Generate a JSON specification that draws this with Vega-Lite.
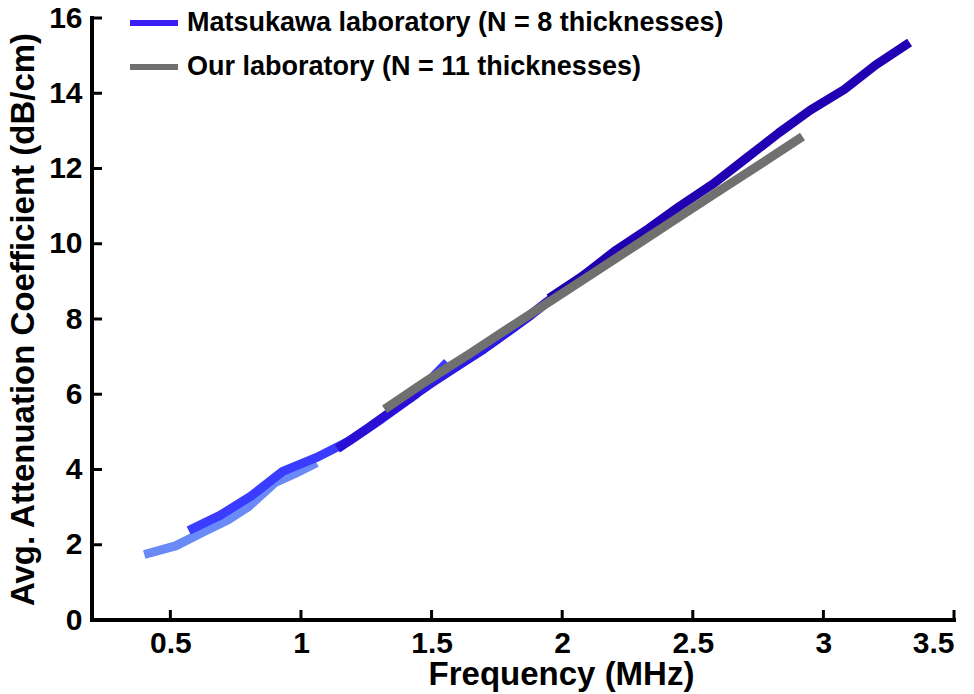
{
  "$schema": "https://vega.github.io/schema/vega-lite/v6.json",
  "autosize": {"type": "none"},
  "width": 862,
  "height": 602,
  "padding": {"left": 92, "top": 18, "right": 20, "bottom": 74},
  "background": "white",
  "config": {
    "view": {"stroke": null},
    "font": "Liberation Sans",
    "axis": {
      "grid": false,
      "domain": false,
      "ticks": false,
      "labelFont": "Liberation Sans",
      "labelFontWeight": "bold",
      "labelFontSize": 30,
      "labelColor": "black",
      "titleFont": "Liberation Sans",
      "titleFontWeight": "bold",
      "titleFontSize": 33,
      "titleColor": "black"
    },
    "legend": {
      "labelFont": "Liberation Sans",
      "labelFontWeight": "bold",
      "labelFontSize": 27,
      "labelColor": "black",
      "labelLimit": 0
    }
  },
  "datasets": {
    "matsukawa": [
      {"seg": "s1", "f": 0.40, "v": 1.74},
      {"seg": "s1", "f": 0.52, "v": 1.97},
      {"seg": "s1", "f": 0.62, "v": 2.32},
      {"seg": "s1", "f": 0.72, "v": 2.66},
      {"seg": "s1", "f": 0.80, "v": 3.02},
      {"seg": "s1", "f": 0.90, "v": 3.65},
      {"seg": "s1", "f": 0.98, "v": 3.90},
      {"seg": "s1", "f": 1.06, "v": 4.18},
      {"seg": "s2", "f": 0.57, "v": 2.38},
      {"seg": "s2", "f": 0.69, "v": 2.78},
      {"seg": "s2", "f": 0.81, "v": 3.30},
      {"seg": "s2", "f": 0.93, "v": 3.95},
      {"seg": "s2", "f": 1.06, "v": 4.32},
      {"seg": "s2", "f": 1.19, "v": 4.78},
      {"seg": "s2", "f": 1.31, "v": 5.35},
      {"seg": "s2", "f": 1.44, "v": 6.00},
      {"seg": "s2", "f": 1.56, "v": 6.85},
      {"seg": "s3", "f": 1.14, "v": 4.55},
      {"seg": "s3", "f": 1.26, "v": 5.12},
      {"seg": "s3", "f": 1.38, "v": 5.72},
      {"seg": "s3", "f": 1.50, "v": 6.30},
      {"seg": "s3", "f": 1.63, "v": 6.90},
      {"seg": "s3", "f": 1.75, "v": 7.45},
      {"seg": "s3", "f": 1.88, "v": 8.10},
      {"seg": "s3", "f": 2.00, "v": 8.75},
      {"seg": "s4", "f": 1.45, "v": 6.10},
      {"seg": "s4", "f": 1.57, "v": 6.62},
      {"seg": "s4", "f": 1.70, "v": 7.20},
      {"seg": "s4", "f": 1.82, "v": 7.80},
      {"seg": "s4", "f": 1.94, "v": 8.45},
      {"seg": "s4", "f": 2.07, "v": 9.10},
      {"seg": "s4", "f": 2.19, "v": 9.70},
      {"seg": "s4", "f": 2.32, "v": 10.30},
      {"seg": "s4", "f": 2.45, "v": 10.90},
      {"seg": "s5", "f": 1.95, "v": 8.55},
      {"seg": "s5", "f": 2.08, "v": 9.15},
      {"seg": "s5", "f": 2.20, "v": 9.80},
      {"seg": "s5", "f": 2.33, "v": 10.40},
      {"seg": "s5", "f": 2.45, "v": 11.00},
      {"seg": "s5", "f": 2.58, "v": 11.60},
      {"seg": "s5", "f": 2.70, "v": 12.25},
      {"seg": "s5", "f": 2.83, "v": 12.95},
      {"seg": "s5", "f": 2.95, "v": 13.55},
      {"seg": "s5", "f": 3.08, "v": 14.10},
      {"seg": "s5", "f": 3.20, "v": 14.75},
      {"seg": "s5", "f": 3.33, "v": 15.35}
    ],
    "ours": [
      {"lab": "Our laboratory (N = 11 thicknesses)", "f": 1.32, "v": 5.60},
      {"lab": "Our laboratory (N = 11 thicknesses)", "f": 1.48, "v": 6.35},
      {"lab": "Our laboratory (N = 11 thicknesses)", "f": 1.64, "v": 7.05},
      {"lab": "Our laboratory (N = 11 thicknesses)", "f": 1.80, "v": 7.78},
      {"lab": "Our laboratory (N = 11 thicknesses)", "f": 1.96, "v": 8.50},
      {"lab": "Our laboratory (N = 11 thicknesses)", "f": 2.12, "v": 9.22},
      {"lab": "Our laboratory (N = 11 thicknesses)", "f": 2.28, "v": 9.95},
      {"lab": "Our laboratory (N = 11 thicknesses)", "f": 2.44, "v": 10.68},
      {"lab": "Our laboratory (N = 11 thicknesses)", "f": 2.60, "v": 11.40},
      {"lab": "Our laboratory (N = 11 thicknesses)", "f": 2.76, "v": 12.12},
      {"lab": "Our laboratory (N = 11 thicknesses)", "f": 2.92, "v": 12.85}
    ],
    "frame": [{"k": 0, "f": 0.2, "v": 16}, {"k": 1, "f": 0.2, "v": 0}, {"k": 2, "f": 3.5, "v": 0}],
    "xticks": [{"t": 0.5}, {"t": 1}, {"t": 1.5}, {"t": 2}, {"t": 2.5}, {"t": 3}, {"t": 3.5}],
    "yticks": [{"t": 2}, {"t": 4}, {"t": 6}, {"t": 8}, {"t": 10}, {"t": 12}, {"t": 14}, {"t": 16}]
  },
  "layer": [
    {
      "data": {"name": "matsukawa"},
      "mark": {"type": "line", "strokeWidth": 9, "strokeCap": "butt", "strokeJoin": "round"},
      "encoding": {
        "x": {"field": "f", "type": "quantitative", "scale": {"domain": [0.2, 3.5], "nice": false, "zero": false},
              "axis": {"values": [0.5, 1, 1.5, 2, 2.5, 3, 3.5], "format": "~g", "title": "Frequency (MHz)", "titleFontSize": 33, "titleX": 469, "labelPadding": 8, "titlePadding": 0}},
        "y": {"field": "v", "type": "quantitative", "scale": {"domain": [0, 16], "nice": false},
              "axis": {"values": [0, 2, 4, 6, 8, 10, 12, 14, 16], "title": "Avg. Attenuation Coefficient (dB/cm)", "labelPadding": 10, "titlePadding": 8}},
        "color": {"field": "seg", "type": "nominal",
                  "scale": {"domain": ["s1", "s2", "s3", "s4", "s5"], "range": ["#6a8af7", "#3a3cff", "#2a10d4", "#2c1be6", "#2000b2"]},
                  "legend": null},
        "order": {"field": "f", "type": "quantitative"}
      }
    },
    {
      "data": {"name": "ours"},
      "mark": {"type": "line", "strokeWidth": 9, "strokeCap": "butt"},
      "encoding": {
        "x": {"field": "f", "type": "quantitative"},
        "y": {"field": "v", "type": "quantitative"},
        "color": {"field": "lab", "type": "nominal",
                  "scale": {"domain": ["Matsukawa laboratory (N = 8 thicknesses)", "Our laboratory (N = 11 thicknesses)"], "range": ["#3a1cf5", "#707070"]},
                  "legend": {"title": null, "orient": "none", "legendX": 35, "legendY": -22, "symbolType": "stroke", "symbolSize": 2304, "symbolStrokeWidth": 6, "labelOffset": 6, "rowPadding": 4, "labelLimit": 0}}
      }
    },
    {
      "data": {"name": "frame"},
      "mark": {"type": "line", "color": "black", "strokeWidth": 4, "strokeCap": "square", "strokeJoin": "miter"},
      "encoding": {
        "x": {"field": "f", "type": "quantitative"},
        "y": {"field": "v", "type": "quantitative"},
        "order": {"field": "k", "type": "quantitative"}
      }
    },
    {
      "data": {"name": "xticks"},
      "mark": {"type": "tick", "color": "black", "orient": "vertical", "size": 10, "thickness": 3, "yOffset": -5, "opacity": 1},
      "encoding": {
        "x": {"field": "t", "type": "quantitative"},
        "y": {"datum": 0, "type": "quantitative"}
      }
    },
    {
      "data": {"name": "yticks"},
      "mark": {"type": "tick", "color": "black", "orient": "horizontal", "size": 10, "thickness": 3, "xOffset": 5, "opacity": 1},
      "encoding": {
        "y": {"field": "t", "type": "quantitative"},
        "x": {"datum": 0.2, "type": "quantitative"}
      }
    }
  ],
  "resolve": {"scale": {"color": "independent"}, "legend": {"color": "independent"}}
}
